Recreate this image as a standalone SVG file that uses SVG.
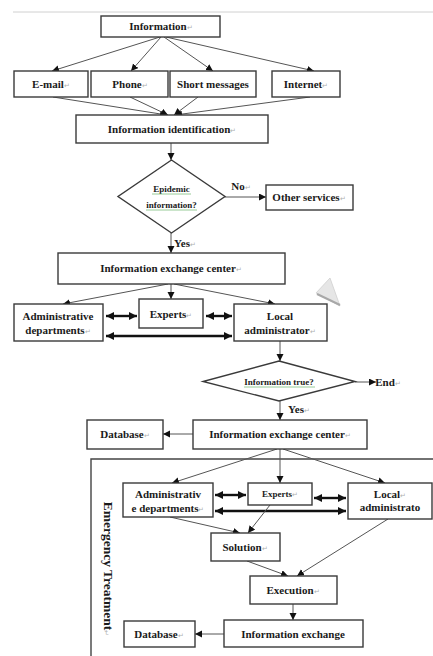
<svg xmlns="http://www.w3.org/2000/svg" width="433" height="656" viewBox="0 0 433 656">
<defs>
<style>
.box{fill:#fff;stroke:#3a3a3a;stroke-width:1.4}
.t{font-family:"Liberation Serif","Times New Roman",serif;font-weight:bold;font-size:11px;fill:#1a1a1a;text-anchor:middle}
.s{font-size:9px}
.pm{fill:#b0b0b0;font-size:7px;font-weight:normal}
.ln{stroke:#555;stroke-width:1;fill:none;marker-end:url(#ah)}
.th{stroke:#111;stroke-width:2.4;fill:none;marker-end:url(#bh);marker-start:url(#bh)}
.ul{stroke:#7fbf7f;stroke-width:0.8}
</style>
<marker id="ah" markerUnits="userSpaceOnUse" markerWidth="8" markerHeight="8" refX="7" refY="3.5" orient="auto">
<path d="M0,0 L7,3.5 L0,7 z" fill="#111"/>
</marker>
<marker id="bh" markerUnits="userSpaceOnUse" markerWidth="10" markerHeight="10" refX="8" refY="4" orient="auto-start-reverse">
<path d="M0,0 L8,4 L0,8 z" fill="#111"/>
</marker>
</defs>
<rect width="433" height="656" fill="#fff"/>
<line x1="13" y1="12" x2="433" y2="12" stroke="#d0d0d0" stroke-width="1"/>
<polygon points="330,278 340,306 316,293" fill="#e6e6e6" stroke="#cfcfcf" stroke-width="0.8"/>
<line x1="317" y1="294" x2="340" y2="305" stroke="#a8a8a8" stroke-width="2"/>
<path d="M91,656 L91,459 L433,459" fill="none" stroke="#444" stroke-width="1.4"/>

<g id="connectors">
<line class="ln" x1="160" y1="37" x2="52" y2="71"/>
<line class="ln" x1="161" y1="37" x2="131" y2="71"/>
<line class="ln" x1="164" y1="37" x2="213" y2="71"/>
<line class="ln" x1="166" y1="37" x2="314" y2="71"/>
<line class="ln" x1="53" y1="97" x2="167" y2="115"/>
<line class="ln" x1="130" y1="97" x2="168" y2="115"/>
<line class="ln" x1="198" y1="97" x2="174" y2="115"/>
<line class="ln" x1="310" y1="97" x2="175" y2="115"/>
<line class="ln" x1="171" y1="143" x2="171" y2="160"/>
<line class="ln" x1="225" y1="197" x2="266" y2="197"/>
<line class="ln" x1="171" y1="233" x2="171" y2="253"/>
<line class="ln" x1="168" y1="284" x2="63" y2="304"/>
<line class="ln" x1="171" y1="284" x2="171" y2="299"/>
<line class="ln" x1="174" y1="284" x2="275" y2="304"/>
<line class="th" x1="106" y1="316" x2="137" y2="316"/>
<line class="th" x1="206" y1="316" x2="232" y2="316"/>
<line class="th" x1="106" y1="336" x2="232" y2="336"/>
<line class="ln" x1="280" y1="341" x2="280" y2="361"/>
<line class="ln" x1="355" y1="382" x2="376" y2="382"/>
<line class="ln" x1="280" y1="401" x2="280" y2="420"/>
<line class="ln" x1="193" y1="434" x2="163" y2="434"/>
<line class="ln" x1="277" y1="449" x2="172" y2="483"/>
<line class="ln" x1="280" y1="449" x2="280" y2="483"/>
<line class="ln" x1="283" y1="449" x2="385" y2="483"/>
<line class="th" x1="215" y1="495" x2="246" y2="495"/>
<line class="th" x1="314" y1="498" x2="346" y2="498"/>
<line class="th" x1="215" y1="511" x2="346" y2="511"/>
<line class="ln" x1="170" y1="517" x2="240" y2="533"/>
<line class="ln" x1="270" y1="505" x2="248" y2="533"/>
<line class="ln" x1="247" y1="561" x2="288" y2="576"/>
<line class="ln" x1="388" y1="519" x2="297" y2="576"/>
<line class="ln" x1="293" y1="604" x2="293" y2="620"/>
<line class="ln" x1="224" y1="634" x2="195" y2="634"/>
</g>

<g class="t">
<text x="241" y="190">No<tspan class="pm">↵</tspan></text>
<text x="185" y="247">Yes<tspan class="pm">↵</tspan></text>
<text x="388" y="386">End<tspan class="pm">↵</tspan></text>
<text x="299" y="413">Yes<tspan class="pm">↵</tspan></text>
</g>

<g id="n_information"><rect class="box" x="101" y="16" width="119" height="21"/><text class="t" x="161" y="30">Information<tspan class="pm">↵</tspan></text></g>
<g id="n_email"><rect class="box" x="14" y="71" width="74" height="26"/><text class="t" x="51" y="88">E-mail<tspan class="pm">↵</tspan></text></g>
<g id="n_phone"><rect class="box" x="91" y="71" width="77" height="26"/><text class="t" x="130" y="88">Phone<tspan class="pm">↵</tspan></text></g>
<g id="n_sms"><rect class="box" x="170" y="71" width="86" height="26"/><text class="t" x="213" y="88">Short messages</text></g>
<g id="n_internet"><rect class="box" x="272" y="71" width="68" height="26"/><text class="t" x="306" y="88">Internet<tspan class="pm">↵</tspan></text></g>
<g id="n_ident"><rect class="box" x="76" y="115" width="192" height="28"/><text class="t" x="172" y="133">Information identification<tspan class="pm">↵</tspan></text></g>
<g id="n_epidemic"><polygon class="box" points="171.5,160 225,196.5 171.5,233 118,196.5"/>
<text class="t s" x="171.5" y="192" fill="#2a3a2a">Epidemic</text>
<text class="t s" x="171.5" y="208" fill="#2a3a2a">information?</text>
<line class="ul" x1="152" y1="194" x2="191" y2="194"/><line class="ul" x1="146" y1="210" x2="197" y2="210"/></g>
<g id="n_other"><rect class="box" x="266" y="185" width="87" height="25"/><text class="t" x="309" y="201">Other services<tspan class="pm">↵</tspan></text></g>
<g id="n_center1"><rect class="box" x="58" y="253" width="227" height="31"/><text class="t" x="171" y="272">Information exchange center<tspan class="pm">↵</tspan></text></g>
<g id="n_admin1"><rect class="box" x="14" y="304" width="89" height="37"/><text class="t" x="58" y="320">Administrative</text><text class="t" x="58" y="334">departments<tspan class="pm">↵</tspan></text></g>
<g id="n_experts1"><rect class="box" x="139" y="299" width="64" height="29"/><text class="t" x="171" y="318">Experts<tspan class="pm">↵</tspan></text></g>
<g id="n_local1"><rect class="box" x="234" y="304" width="93" height="37"/><text class="t" x="280" y="320">Local</text><text class="t" x="280" y="334">administrator<tspan class="pm">↵</tspan></text></g>
<g id="n_true"><polygon class="box" points="279,361 355,381.5 279,401 203,381.5"/>
<text class="t s" x="279" y="385" fill="#2a3a2a">Information true?</text>
<line class="ul" x1="244" y1="387" x2="315" y2="387"/></g>
<g id="n_center2"><rect class="box" x="193" y="420" width="174" height="29"/><text class="t" x="280" y="438">Information exchange center<tspan class="pm">↵</tspan></text></g>
<g id="n_db1"><rect class="box" x="87" y="420" width="76" height="29"/><text class="t" x="125" y="438">Database<tspan class="pm">↵</tspan></text></g>
<g id="n_emergency"><text class="t" style="font-size:13.5px" transform="translate(103.5,569) rotate(90)">Emergency Treatment<tspan class="pm">↵</tspan></text></g>
<g id="n_admin2"><rect class="box" x="123" y="483" width="90" height="34"/><text class="t" x="168" y="498">Administrativ</text><text class="t" x="168" y="512">e departments<tspan class="pm">↵</tspan></text></g>
<g id="n_experts2"><rect class="box" x="248" y="483" width="64" height="22"/><text class="t s" x="280" y="497" fill="#555">Experts<tspan class="pm">↵</tspan></text></g>
<g id="n_local2"><rect class="box" x="348" y="483" width="84" height="36"/><text class="t" x="390" y="498">Local<tspan class="pm">↵</tspan></text><text class="t" x="390" y="511">administrato</text></g>
<g id="n_solution"><rect class="box" x="211" y="533" width="69" height="28"/><text class="t" x="245" y="551">Solution<tspan class="pm">↵</tspan></text></g>
<g id="n_execution"><rect class="box" x="250" y="576" width="87" height="28"/><text class="t" x="293" y="594">Execution<tspan class="pm">↵</tspan></text></g>
<g id="n_infoex"><rect class="box" x="224" y="620" width="139" height="27"/><text class="t" x="293" y="638">Information exchange</text></g>
<g id="n_db2"><rect class="box" x="124" y="621" width="71" height="26"/><text class="t" x="159" y="638">Database<tspan class="pm">↵</tspan></text></g>
</svg>
